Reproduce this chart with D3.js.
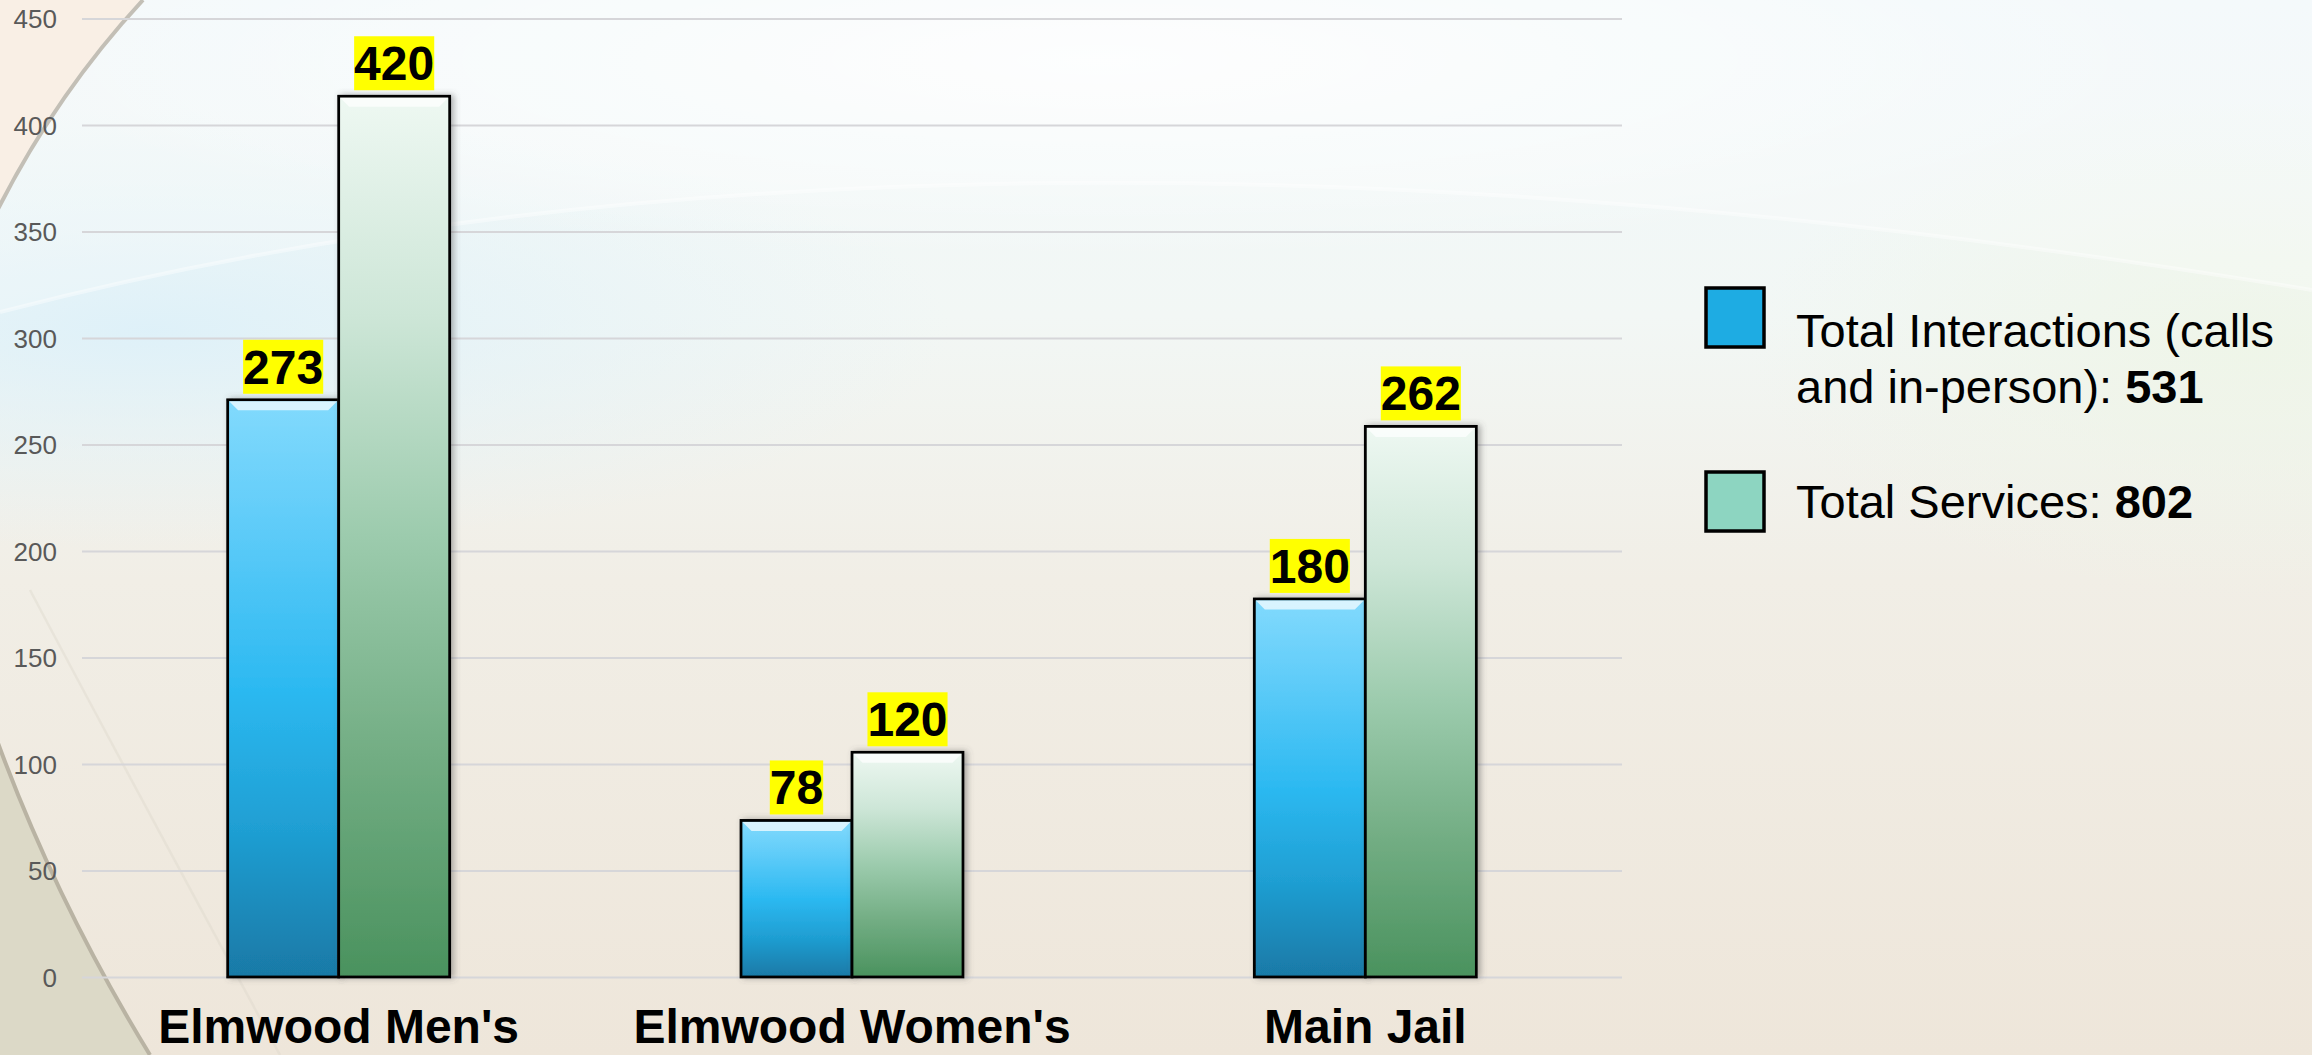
<!DOCTYPE html>
<html>
<head>
<meta charset="utf-8">
<script src="https://cdn.jsdelivr.net/npm/d3@7"></script>
<style>
  html, body { margin: 0; padding: 0; overflow: hidden; background: #f1ede4; }
  svg { display: block; font-family: "Liberation Sans", Arial, sans-serif; }
</style>
</head>
<body>
<svg id="chart" width="2312" height="1055"></svg>
<script>
// ---- data ----
const categories = ["Elmwood Men's", "Elmwood Women's", "Main Jail"];
const seriesKeys = ["interactions", "services"];
const interactions = [271, 73.5, 177.5];      // bar heights as drawn
const services = [413.5, 105.5, 258.5];       // bar heights as drawn
const interactionLabels = ["273", "78", "180"];
const serviceLabels = ["420", "120", "262"];
const legendTotals = [531, 802];
const yTicks = [0, 50, 100, 150, 200, 250, 300, 350, 400, 450];

// ---- setup ----
const W = 2312, H = 1055;
const svg = d3.select("#chart");
const defs = svg.append("defs");

// background gradients
const bg = defs.append("linearGradient").attr("id", "bgGrad").attr("x1", 0).attr("y1", 0).attr("x2", 0).attr("y2", 1);
[["0%", "#f1f8fa"], ["30%", "#f2f7f5"], ["55%", "#f1eee6"], ["100%", "#eee6da"]]
  .forEach(([o, c]) => bg.append("stop").attr("offset", o).attr("stop-color", c));
const blueGlow = defs.append("radialGradient").attr("id", "blueGlow");
blueGlow.append("stop").attr("offset", "0%").attr("stop-color", "#dcf0f9").attr("stop-opacity", 0.9);
blueGlow.append("stop").attr("offset", "100%").attr("stop-color", "#e2f2f8").attr("stop-opacity", 0);
const whiteGlow = defs.append("radialGradient").attr("id", "whiteGlow");
whiteGlow.append("stop").attr("offset", "0%").attr("stop-color", "#ffffff").attr("stop-opacity", 0.85);
whiteGlow.append("stop").attr("offset", "100%").attr("stop-color", "#ffffff").attr("stop-opacity", 0);
const greenGlow = defs.append("radialGradient").attr("id", "greenGlow");
greenGlow.append("stop").attr("offset", "0%").attr("stop-color", "#eef5e6").attr("stop-opacity", 0.8);
greenGlow.append("stop").attr("offset", "100%").attr("stop-color", "#eef5e6").attr("stop-opacity", 0);

// bar gradients
const gBlue = defs.append("linearGradient").attr("id", "gBlue").attr("x1", 0).attr("y1", 0).attr("x2", 0).attr("y2", 1);
[["0%", "#82dafd"], ["20%", "#62cdf9"], ["50%", "#2cb9f1"], ["75%", "#1f9ed2"], ["100%", "#1979a6"]]
  .forEach(([o, c]) => gBlue.append("stop").attr("offset", o).attr("stop-color", c));
const gGreen = defs.append("linearGradient").attr("id", "gGreen").attr("x1", 0).attr("y1", 0).attr("x2", 0).attr("y2", 1);
[["0%", "#eef8f2"], ["25%", "#cde6d7"], ["50%", "#9ccbad"], ["75%", "#72ad83"], ["100%", "#4a925e"]]
  .forEach(([o, c]) => gGreen.append("stop").attr("offset", o).attr("stop-color", c));

const shadow = defs.append("filter").attr("id", "shadow").attr("x", "-20%").attr("y", "-5%").attr("width", "140%").attr("height", "110%");
shadow.append("feDropShadow").attr("dx", 3).attr("dy", 0).attr("stdDeviation", 3).attr("flood-color", "#555").attr("flood-opacity", 0.45);

// ---- background ----
svg.append("rect").attr("width", W).attr("height", H).attr("fill", "url(#bgGrad)");
svg.append("ellipse").attr("cx", 150).attr("cy", 330).attr("rx", 800).attr("ry", 220).attr("fill", "url(#blueGlow)");
svg.append("ellipse").attr("cx", 1100).attr("cy", 60).attr("rx", 1100).attr("ry", 200).attr("fill", "url(#whiteGlow)");
svg.append("ellipse").attr("cx", 2250).attr("cy", 350).attr("rx", 500).attr("ry", 250).attr("fill", "url(#greenGlow)");
// pale top area above the sweeping curve
svg.append("path")
  .attr("d", "M0,0 L0,312 Q950,65 2312,290 L2312,0 Z")
  .attr("fill", "#ffffff").attr("opacity", 0.22);
svg.append("path")
  .attr("d", "M0,312 Q950,65 2312,290")
  .attr("fill", "none").attr("stroke", "#ffffff").attr("stroke-width", 4).attr("opacity", 0.4);
// left arcs
svg.append("path").attr("d", "M0,0 L143,0 Q55,95 -5,215 Z").attr("fill", "#f9efe5");
svg.append("path").attr("d", "M143,0 Q55,95 -5,215").attr("fill", "none").attr("stroke", "#c3bfb6").attr("stroke-width", 4);
svg.append("path").attr("d", "M-5,735 Q55,900 150,1055 L0,1055 Z").attr("fill", "#dcd9c7");
svg.append("path").attr("d", "M-5,735 Q55,900 150,1055").attr("fill", "none").attr("stroke", "#b9b3a3").attr("stroke-width", 4);
svg.append("path").attr("d", "M30,590 Q120,760 280,1055").attr("fill", "none").attr("stroke", "#ddd7cb").attr("stroke-width", 2.5).attr("opacity", 0.4);

// ---- scales ----
const plotL = 82, plotR = 1622, plotT = 18.5, plotB = 977;
const x0 = d3.scaleBand().domain(categories).range([plotL, plotR]).paddingInner(0.5675).paddingOuter(0.28375);
const x1 = d3.scaleBand().domain(seriesKeys).range([0, x0.bandwidth()]).padding(0);
const y = d3.scaleLinear().domain([0, 450]).range([plotB, plotT]);

// ---- grid + y axis ----
const yAxis = d3.axisLeft(y).tickValues(yTicks).tickSize(-(plotR - plotL)).tickPadding(25).tickFormat(d3.format("d"));
const ga = svg.append("g").attr("transform", `translate(${plotL},0)`).call(yAxis);
ga.select(".domain").remove();
ga.selectAll(".tick line").attr("stroke", "#d6d6d9").attr("stroke-width", 2);
ga.selectAll(".tick text").attr("fill", "#595959").attr("font-size", 26)
  .attr("font-family", "'Liberation Sans', Arial, sans-serif").attr("dy", "0.36em");

// ---- bars ----
const rows = categories.map((c, i) => ({
  cat: c,
  items: [
    { key: "interactions", value: interactions[i], label: interactionLabels[i], fill: "url(#gBlue)" },
    { key: "services", value: services[i], label: serviceLabels[i], fill: "url(#gGreen)" }
  ]
}));

const groups = svg.append("g").selectAll("g.grp").data(rows).join("g")
  .attr("class", "grp").attr("transform", d => `translate(${x0(d.cat)},0)`);

const bars = groups.selectAll("g.bar").data(d => d.items).join("g").attr("class", "bar");
bars.append("rect")
  .attr("x", d => x1(d.key)).attr("width", x1.bandwidth())
  .attr("y", d => y(d.value)).attr("height", d => y(0) - y(d.value))
  .attr("fill", d => d.fill).attr("stroke", "#000").attr("stroke-width", 2.8)
  .attr("filter", "url(#shadow)");
// bevel highlight at top
bars.append("path")
  .attr("d", d => {
    const xa = x1(d.key) + 1.5, xb = x1(d.key) + x1.bandwidth() - 1.5, yt = y(d.value) + 1.5, h = 9;
    return `M${xa},${yt} L${xb},${yt} L${xb - h},${yt + h} L${xa + h},${yt + h} Z`;
  })
  .attr("fill", "#ffffff").attr("opacity", 0.7);

// ---- value labels ----
const labelFont = 48;
bars.each(function(d) {
  const g = d3.select(this);
  const cx = x1(d.key) + x1.bandwidth() / 2;
  const baseline = y(d.value) - 6 - 10;
  const bgRect = g.append("rect").attr("fill", "#ffff00");
  const t = g.append("text").attr("x", cx).attr("y", baseline).attr("text-anchor", "middle")
    .attr("font-size", labelFont).attr("font-weight", "bold").attr("fill", "#000").text(d.label);
  const bb = t.node().getBBox();
  bgRect.attr("x", bb.x).attr("y", baseline - 44).attr("width", bb.width).attr("height", 54);
});

// ---- category labels ----
svg.append("g").selectAll("text").data(categories).join("text")
  .attr("x", d => x0(d) + x0.bandwidth() / 2).attr("y", 1043)
  .attr("text-anchor", "middle").attr("font-size", 48).attr("font-weight", "bold").attr("fill", "#000")
  .text(d => d);

// ---- legend ----
const legend = svg.append("g");
const legendItems = [
  { color: "#1eace3", y: 288, lines: [["Total Interactions (calls", null], ["and in-person): ", legendTotals[0]]], baselines: [347, 403] },
  { color: "#8dd5c1", y: 472, lines: [["Total Services: ", legendTotals[1]]], baselines: [518] }
];
legendItems.forEach(it => {
  legend.append("rect").attr("x", 1706).attr("y", it.y).attr("width", 58).attr("height", 59)
    .attr("fill", it.color).attr("stroke", "#000").attr("stroke-width", 3.5);
  it.lines.forEach((ln, i) => {
    const t = legend.append("text").attr("x", 1796).attr("y", it.baselines[i]).attr("font-size", 47).attr("fill", "#000");
    t.append("tspan").text(ln[0]);
    if (ln[1] !== null) t.append("tspan").attr("font-weight", "bold").text(ln[1]);
  });
});
</script>
</body>
</html>
